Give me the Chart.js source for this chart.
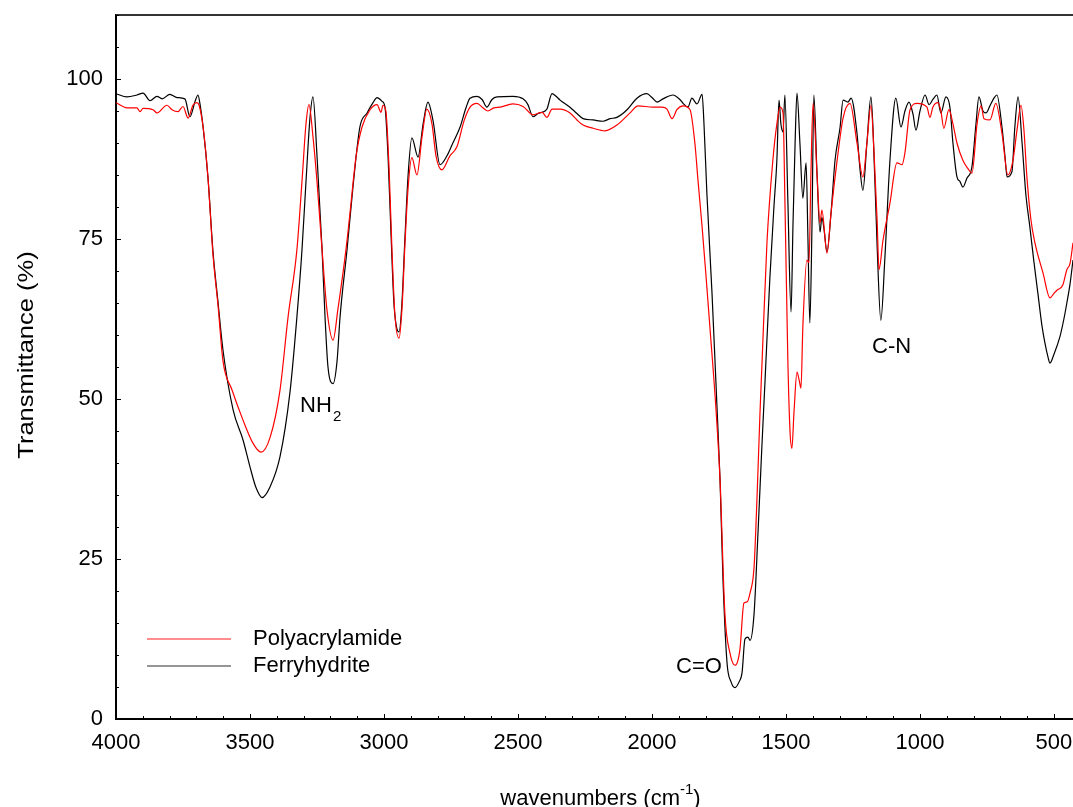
<!DOCTYPE html>
<html>
<head>
<meta charset="utf-8">
<script src="https://cdn.jsdelivr.net/npm/chart.js@4.4.1/dist/chart.umd.min.js"></script>
<style>
  body { margin: 0; background: #fff; }
  #wrap { width: 1073px; height: 807px; }
</style>
</head>
<body>
<div id="wrap"><canvas id="ftirChart" width="1073" height="807"></canvas></div>
<script>
// Polyacrylamide (red)
const pamWavenumbers = [4000, 3959, 3922, 3910, 3899, 3862, 3847, 3810, 3791, 3769, 3750, 3731, 3713, 3698, 3690, 3675, 3657, 3638, 3619, 3601,
  3567, 3526, 3489, 3459, 3425, 3388, 3358, 3325, 3306, 3291, 3280, 3265, 3250, 3231, 3213, 3190, 3172, 3142, 3127, 3104,
  3082, 3052, 3026, 3011, 3004, 2993, 2981, 2970, 2959, 2944, 2933, 2922, 2910, 2896, 2877, 2858, 2840, 2821, 2806, 2784,
  2754, 2728, 2701, 2679, 2653, 2631, 2612, 2590, 2567, 2519, 2481, 2444, 2410, 2392, 2373, 2343, 2306, 2280, 2257, 2220,
  2175, 2131, 2082, 2052, 1996, 1963, 1944, 1925, 1907, 1884, 1858, 1840, 1828, 1813, 1798, 1784, 1761, 1746, 1728, 1709,
  1690, 1672, 1657, 1645, 1634, 1619, 1608, 1597, 1590, 1571, 1549, 1534, 1522, 1511, 1504, 1493, 1485, 1478, 1470, 1459,
  1451, 1444, 1437, 1422, 1414, 1407, 1399, 1384, 1373, 1366, 1347, 1332, 1310, 1287, 1261, 1235, 1213, 1198, 1183, 1172,
  1160, 1153, 1138, 1112, 1086, 1067, 1056, 1037, 1011, 974, 963, 952, 933, 922, 911, 892, 877, 862, 840, 821,
  806, 787, 772, 761, 739, 717, 694, 672, 653, 638, 623, 612, 601, 586, 571, 541, 515, 500, 489, 467,
  452, 440, 429];
const pamTransmittance = [96.3, 95.5, 95.5, 94.9, 95.4, 95.2, 94.7, 95.9, 95.2, 94.9, 95.7, 93.9, 95.9, 96.3, 95.9, 92.5, 84.7, 72.5, 64.5, 56,
  51.4, 46.7, 43.1, 41.7, 44, 51.4, 62.8, 73.3, 84, 93, 96, 91, 84, 73.3, 64, 59.2, 64, 73.3, 79, 88,
  92.5, 95.2, 96, 94.8, 95.9, 95, 86, 73, 63, 59.5, 64, 74, 83, 87.7, 85, 91, 95.3, 93, 88, 85.8,
  88, 89.4, 93.5, 95.6, 96.2, 95.5, 95, 95.5, 95.6, 96.1, 95.7, 94.4, 94.8, 94, 95.3, 95.3, 94.7, 93.6, 92.8, 92.3,
  91.9, 92.8, 94.7, 95.8, 95.6, 95.6, 95.3, 93.8, 95.2, 95.8, 95.2, 90, 84, 76.9, 69, 61.3, 48.3, 37.3, 16.5, 10.3,
  8.4, 10.8, 18.1, 18.3, 19.7, 23.8, 34.7, 47.8, 55, 74.4, 87.3, 93, 95.6, 94.7, 81, 56, 45, 42.3, 48, 54.2,
  53, 51.7, 61.3, 71.7, 71.3, 85, 96.2, 85, 77.5, 79.5, 72.8, 79, 87, 93.9, 96.2, 90, 84.7, 90, 95.9, 89,
  78, 70.2, 74.8, 80.6, 86.9, 86.6, 88.5, 95.2, 96.2, 95.6, 94, 95.6, 96.3, 95, 92.3, 95.2, 93, 90, 87.3, 86,
  85.3, 93, 95.8, 93.8, 93.6, 96.2, 91.5, 85, 87.3, 92, 95.9, 92, 84.7, 78, 74.4, 69.7, 65.8, 66.5, 67, 67.8,
  70.2, 71.2, 74.4];

// Ferryhydrite (black)
const ferWavenumbers = [4000, 3959, 3922, 3899, 3873, 3847, 3828, 3799, 3772, 3743, 3724, 3705, 3694, 3687, 3675, 3657, 3638, 3619, 3601, 3563,
  3526, 3500, 3478, 3455, 3425, 3388, 3351, 3325, 3306, 3291, 3276, 3265, 3250, 3231, 3220, 3209, 3190, 3175, 3164, 3138,
  3116, 3090, 3063, 3041, 3026, 3007, 2996, 2985, 2974, 2963, 2952, 2944, 2933, 2922, 2910, 2896, 2873, 2854, 2836, 2817,
  2791, 2765, 2743, 2716, 2694, 2679, 2653, 2634, 2616, 2597, 2578, 2519, 2481, 2463, 2444, 2425, 2410, 2392, 2373, 2358,
  2343, 2306, 2280, 2257, 2220, 2183, 2157, 2131, 2093, 2056, 2019, 2000, 1981, 1959, 1922, 1896, 1884, 1866, 1851, 1832,
  1813, 1806, 1795, 1776, 1757, 1746, 1735, 1720, 1705, 1690, 1675, 1664, 1653, 1642, 1634, 1619, 1604, 1590, 1578, 1560,
  1545, 1534, 1526, 1519, 1511, 1504, 1493, 1481, 1474, 1466, 1459, 1448, 1437, 1425, 1418, 1411, 1403, 1396, 1384, 1373,
  1366, 1358, 1347, 1332, 1317, 1298, 1287, 1269, 1257, 1235, 1224, 1213, 1198, 1183, 1175, 1160, 1146, 1131, 1112, 1090,
  1071, 1056, 1041, 1026, 1015, 1000, 981, 966, 952, 937, 922, 903, 888, 877, 862, 851, 840, 825, 806, 791,
  780, 765, 754, 739, 724, 713, 694, 683, 675, 657, 646, 634, 619, 605, 590, 575, 560, 545, 534, 522,
  515, 500, 478, 463, 452, 440, 429];
const ferTransmittance = [97.7, 97.2, 97.5, 97.8, 96.6, 97.3, 96.9, 97.6, 97.1, 96.9, 94.1, 96.5, 97.5, 96.2, 92.5, 84.7, 73, 65, 57.7, 48.3,
  43.6, 39.4, 36.2, 34.6, 36.3, 41, 51, 62.8, 73.3, 84, 94, 97.2, 88, 73.3, 62.8, 55, 52.4, 56, 62.8, 73.3,
  83, 92.5, 94.7, 96.3, 97.1, 96.5, 95.5, 88, 76, 65, 61, 60.5, 65, 75, 85, 90.8, 87.8, 93, 96.4, 93.5,
  86.6, 88, 90, 92.5, 95.5, 97, 97.3, 96.8, 95.6, 96.8, 97.2, 97.3, 96.9, 96, 94.1, 94.6, 94.8, 95.3, 97.7, 97.3,
  96.7, 95.6, 94.6, 93.8, 93.6, 93.4, 93.8, 94, 95.2, 97, 97.7, 97.1, 96.4, 96.9, 97.5, 96.8, 96.2, 95.6, 97, 96.1,
  97.6, 93, 82, 66.5, 48.3, 37.3, 21.7, 8.8, 5.8, 4.9, 5.8, 7.2, 12.5, 12.8, 12.3, 16.5, 29.5, 42.5, 53, 69,
  80, 87.3, 96.7, 93, 91.7, 97.5, 81, 63.6, 77, 90, 97.8, 90, 81.4, 86.9, 75, 61.9, 77, 97.5, 85, 76.1,
  78.4, 76.5, 73, 79, 87.3, 92.5, 96.7, 96.4, 97, 91.5, 86, 82.6, 90, 97.2, 92, 74, 62.3, 72, 87.3, 97,
  92.5, 95, 96.4, 94.5, 92, 95, 97.5, 96, 96.8, 97.5, 94.7, 97.2, 95.5, 90, 84.7, 84, 83.1, 84.5, 86.3, 93,
  97.2, 95, 94.7, 95.8, 97, 97.5, 92.5, 88, 84.7, 85.5, 92.5, 97.2, 90, 82, 76.9, 71.5, 66.5, 61.5, 58.8, 56.5,
  55.6, 57, 59.7, 62.5, 65, 68, 71.7];

const xTickValues = [4000, 3500, 3000, 2500, 2000, 1500, 1000, 500];
const yTickValues = [0, 25, 50, 75, 100];
const seriesNames = ['Polyacrylamide', 'Ferryhydrite'];

const FONT = "'Liberation Sans', Arial, Helvetica, sans-serif";

function toPoints(xs, ys) {
  return xs.map((w, i) => ({ x: w, y: ys[i] }));
}

// axes frame, inward ticks, legend, titles and band labels
const ftirDecor = {
  id: 'ftirDecor',
  afterDraw(chart) {
    const { ctx, chartArea: a, scales: { x, y } } = chart;
    ctx.save();

    // top frame line
    ctx.strokeStyle = '#333';
    ctx.lineWidth = 2;
    ctx.beginPath();
    ctx.moveTo(a.left, a.top);
    ctx.lineTo(a.right, a.top);
    ctx.stroke();

    // inward tick marks (major + minor)
    ctx.strokeStyle = '#000';
    ctx.lineWidth = 1;
    ctx.beginPath();
    for (let v = 4000; v >= x.min; v -= 100) {
      const px = Math.round(x.getPixelForValue(v)) + 0.5;
      const len = v % 500 === 0 ? 5 : 3;
      ctx.moveTo(px, a.bottom);
      ctx.lineTo(px, a.bottom - len);
    }
    for (let v = 0; v <= y.max; v += 5) {
      const py = Math.round(y.getPixelForValue(v)) + 0.5;
      const len = v % 25 === 0 ? 5 : 3;
      ctx.moveTo(a.left, py);
      ctx.lineTo(a.left + len, py);
    }
    ctx.stroke();

    ctx.fillStyle = '#000';
    ctx.textBaseline = 'alphabetic';

    // y axis title, a little stretched like the original
    ctx.save();
    ctx.translate(33, (a.top + a.bottom) / 2 - 12);
    ctx.rotate(-Math.PI / 2);
    ctx.scale(1.16, 1);
    ctx.font = '22px ' + FONT;
    ctx.textAlign = 'center';
    ctx.fillText('Transmittance (%)', 0, 0);
    ctx.restore();

    // x axis title with superscript
    const main = 'wavenumbers (cm';
    ctx.font = '22px ' + FONT;
    const w1 = ctx.measureText(main).width;
    ctx.font = '15px ' + FONT;
    const w2 = ctx.measureText('-1').width;
    ctx.font = '22px ' + FONT;
    const w3 = ctx.measureText(')').width;
    let tx = (a.left + a.right) / 2 + 6 - (w1 + w2 + w3) / 2;
    const ty = 805;
    ctx.textAlign = 'left';
    ctx.fillText(main, tx, ty);
    tx += w1;
    ctx.font = '15px ' + FONT;
    ctx.fillText('-1', tx, ty - 11);
    tx += w2;
    ctx.font = '22px ' + FONT;
    ctx.fillText(')', tx, ty);

    // band labels
    const nhX = x.getPixelForValue(3313), nhY = y.getPixelForValue(48);
    ctx.font = '22px ' + FONT;
    ctx.textAlign = 'left';
    ctx.fillText('NH', nhX, nhY);
    const nhW = ctx.measureText('NH').width;
    ctx.font = '15px ' + FONT;
    ctx.fillText('2', nhX + nhW + 1, nhY + 9);

    ctx.font = '22px ' + FONT;
    ctx.fillText('C-N', x.getPixelForValue(1179), y.getPixelForValue(57.2));
    ctx.textAlign = 'right';
    ctx.fillText('C=O', x.getPixelForValue(1739), y.getPixelForValue(7.2));

    // legend
    const legendColors = ['rgba(255,0,0,0.6)', 'rgba(0,0,0,0.55)'];
    const lx = a.left + 31;
    [639, 666].forEach((ly, i) => {
      ctx.strokeStyle = legendColors[i];
      ctx.lineWidth = 1.5;
      ctx.beginPath();
      ctx.moveTo(lx, ly);
      ctx.lineTo(lx + 84, ly);
      ctx.stroke();
      ctx.fillStyle = '#000';
      ctx.font = '22px ' + FONT;
      ctx.textAlign = 'left';
      ctx.fillText(seriesNames[i], lx + 106, ly + 6);
    });

    ctx.restore();
  }
};

const ctx = document.getElementById('ftirChart').getContext('2d');
const ftirChart = new Chart(ctx, {
  type: 'line',
  data: {
    datasets: [{
      label: seriesNames[0],
      data: toPoints(pamWavenumbers, pamTransmittance),
      borderColor: '#ff0000',
      borderWidth: 1.2,
      pointRadius: 0,
      cubicInterpolationMode: 'monotone',
      fill: false
    }, {
      label: seriesNames[1],
      data: toPoints(ferWavenumbers, ferTransmittance),
      borderColor: '#000000',
      borderWidth: 1.2,
      pointRadius: 0,
      cubicInterpolationMode: 'monotone',
      fill: false
    }]
  },
  options: {
    responsive: false,
    animation: false,
    layout: { padding: { top: 15, right: 0, left: 0, bottom: 0 } },
    plugins: {
      legend: { display: false },
      tooltip: { enabled: false }
    },
    scales: {
      x: {
        type: 'linear',
        reverse: true,
        min: 429,
        max: 4000,
        afterFit: s => {
          s.height = 88;
          s.paddingLeft = 0;
          s.paddingRight = 0;
        },
        afterBuildTicks: s => { s.ticks = xTickValues.map(v => ({ value: v })); },
        ticks: {
          color: '#000',
          font: { family: FONT, size: 22 },
          padding: 11,
          maxRotation: 0,
          autoSkip: false,
          callback: v => String(v)
        },
        grid: { drawOnChartArea: false, drawTicks: false },
        border: { color: '#000', width: 2 }
      },
      y: {
        min: 0,
        max: 110,
        afterFit: s => {
          s.width = 116;
          s.paddingTop = 0;
          s.paddingBottom = 0;
        },
        afterBuildTicks: s => { s.ticks = yTickValues.map(v => ({ value: v })); },
        ticks: {
          color: '#000',
          font: { family: FONT, size: 22 },
          padding: 13,
          callback: v => String(v)
        },
        grid: { drawOnChartArea: false, drawTicks: false },
        border: { color: '#000', width: 2 }
      }
    }
  },
  plugins: [ftirDecor]
});
</script>
</body>
</html>
